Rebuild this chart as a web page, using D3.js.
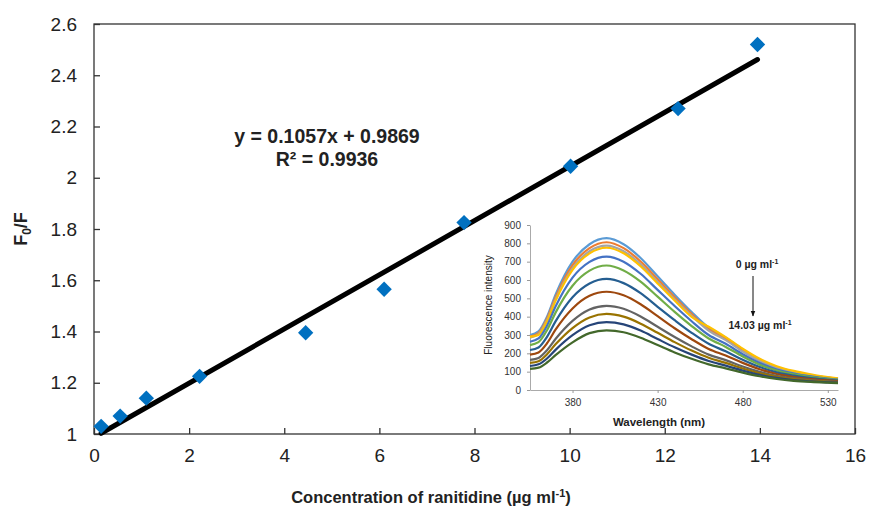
<!DOCTYPE html>
<html>
<head>
<meta charset="utf-8">
<script src="https://cdn.jsdelivr.net/npm/d3@7"></script>
<style>
  body { margin: 0; background: #fff; }
  svg { font-family: Arial, "Liberation Sans", sans-serif; }
</style>
</head>
<body>
<div id="chart"></div>
<script>
// main plot: F0/F vs concentration
const conc = [0.15, 0.55, 1.1, 2.22, 4.45, 6.1, 7.78, 10.02, 12.28, 13.95];
const f0f = [1.03, 1.07, 1.14, 1.225, 1.395, 1.565, 1.825, 2.045, 2.27, 2.52];
const xTicks = [0, 2, 4, 6, 8, 10, 12, 14, 16];
const yTicks = [1, 1.2, 1.4, 1.6, 1.8, 2, 2.2, 2.4, 2.6];
const fitSlope = 0.1057;
const fitIntercept = 0.9869;

// inset: emission spectra
const wavelengths = [355, 360, 365, 370, 380, 390, 400, 410, 420, 430, 440, 450, 460, 470, 480, 490, 500, 510, 520, 530, 536];
const s1 = [300, 320, 400, 520, 700, 795, 828, 795, 720, 620, 520, 425, 340, 285, 220, 165, 125, 100, 82, 68, 62];
const s2 = [292, 311, 389, 505, 681, 774, 806, 774, 701, 604, 506, 414, 331, 278, 215, 161, 122, 98, 80, 67, 61];
const s3 = [285, 304, 380, 494, 665, 757, 788, 757, 686, 590, 495, 405, 324, 272, 210, 158, 120, 96, 79, 66, 60];
const s4 = [290, 300, 374, 486, 655, 745, 776, 746, 675, 581, 488, 399, 345, 288, 225, 170, 130, 104, 85, 70, 64];
const s5 = [263, 281, 351, 455, 613, 699, 728, 700, 634, 546, 458, 375, 300, 252, 195, 147, 112, 90, 74, 62, 57];
const s6 = [245, 261, 326, 422, 569, 651, 679, 652, 591, 509, 426, 349, 281, 235, 183, 138, 106, 85, 71, 60, 55];
const s7 = [218, 232, 290, 374, 506, 581, 606, 583, 528, 454, 381, 312, 252, 211, 165, 125, 96, 78, 65, 56, 51];
const s8 = [193, 205, 255, 329, 445, 514, 536, 517, 468, 403, 337, 277, 224, 188, 148, 113, 87, 71, 60, 52, 48];
const s9 = [164, 175, 217, 278, 377, 439, 459, 443, 401, 345, 289, 238, 193, 163, 128, 99, 77, 63, 54, 47, 44];
const s10 = [148, 157, 195, 249, 338, 396, 415, 400, 362, 312, 261, 215, 176, 148, 117, 91, 72, 59, 51, 45, 42];
const s11 = [131, 140, 172, 219, 299, 353, 370, 358, 324, 278, 233, 193, 158, 133, 106, 83, 66, 54, 47, 42, 40];
const s12 = [115, 122, 150, 190, 260, 310, 325, 315, 285, 245, 205, 170, 140, 118, 95, 75, 60, 50, 44, 40, 38];
const spectra = [s1, s2, s3, s4, s5, s6, s7, s8, s9, s10, s11, s12];
const specColors = ["#5B9BD5", "#ED7D31", "#A5A5A5", "#FFC000", "#4472C4", "#70AD47",
                    "#255E91", "#9E480E", "#636363", "#997300", "#264478", "#43682B"];
const insetXTicks = [380, 430, 480, 530];
const insetYTicks = [0, 100, 200, 300, 400, 500, 600, 700, 800, 900];

const width = 869;
const height = 527;

const svg = d3.select("#chart")
  .append("svg")
  .attr("width", width)
  .attr("height", height);

svg.append("rect").attr("width", width).attr("height", height).attr("fill", "#fff");

const x = d3.scaleLinear().domain([0, 16]).range([94, 855]);
const y = d3.scaleLinear().domain([1, 2.6]).range([434, 24]);

// frame
svg.append("rect")
  .attr("x", x(0)).attr("y", y(2.6))
  .attr("width", x(16) - x(0)).attr("height", y(1) - y(2.6))
  .attr("fill", "none").attr("stroke", "#333").attr("stroke-width", 1.3);

const xAxis = svg.append("g")
  .attr("transform", `translate(0,${y(1)})`)
  .call(d3.axisBottom(x).tickValues(xTicks).tickSizeInner(-6).tickSizeOuter(0).tickPadding(15).tickFormat(d => d));
xAxis.select(".domain").remove();

const yAxis = svg.append("g")
  .attr("transform", `translate(${x(0)},0)`)
  .call(d3.axisLeft(y).tickValues(yTicks).tickSizeInner(-6).tickSizeOuter(0).tickPadding(17).tickFormat(d => +d.toFixed(1)));
yAxis.select(".domain").remove();

svg.selectAll(".tick line").attr("stroke", "#333").attr("stroke-width", 1.3);
svg.selectAll(".tick text").attr("font-size", 19).attr("fill", "#222")
  .attr("font-family", "Arial, 'Liberation Sans', sans-serif");

// inset spectra
const ix = d3.scaleLinear().domain([355, 536]).range([530, 838]);
const iy = d3.scaleLinear().domain([0, 900]).range([390, 225]);

const inset = svg.append("g");

const ixAxis = inset.append("g")
  .attr("transform", `translate(0,${iy(0)})`)
  .call(d3.axisBottom(ix).tickValues(insetXTicks).tickSizeInner(3).tickSizeOuter(0).tickPadding(6));
const iyAxis = inset.append("g")
  .attr("transform", `translate(${ix(355)},0)`)
  .call(d3.axisLeft(iy).tickValues(insetYTicks).tickSizeInner(3).tickSizeOuter(0).tickPadding(6));

inset.selectAll(".domain").attr("stroke", "#aaa");
inset.selectAll(".tick line").attr("stroke", "#999").attr("stroke-width", 1);
inset.selectAll(".tick text").attr("font-size", 10).attr("fill", "#333")
  .attr("font-family", "Arial, 'Liberation Sans', sans-serif");

const specLine = d3.line()
  .x((d, i) => ix(wavelengths[i]))
  .y(d => iy(d))
  .curve(d3.curveMonotoneX);

inset.selectAll(".spec")
  .data(spectra)
  .join("path")
  .attr("class", "spec")
  .attr("fill", "none")
  .attr("stroke", (d, i) => specColors[i])
  .attr("stroke-width", 2.2)
  .attr("d", specLine);

inset.append("text")
  .attr("transform", `translate(492,305) rotate(-90)`)
  .attr("text-anchor", "middle")
  .attr("font-size", 10)
  .attr("fill", "#222")
  .text("Fluorescence intensity");

inset.append("text")
  .attr("x", 659).attr("y", 426)
  .attr("text-anchor", "middle")
  .attr("font-size", 11.5)
  .attr("font-weight", "bold")
  .attr("fill", "#222")
  .text("Wavelength (nm)");

const topNote = inset.append("text")
  .attr("x", 757).attr("y", 268)
  .attr("text-anchor", "middle")
  .attr("font-size", 10.5)
  .attr("font-weight", "bold")
  .attr("fill", "#222");
topNote.append("tspan").text("0 µg ml");
topNote.append("tspan").attr("font-size", 7).attr("dy", -4).text("-1");

const bottomNote = inset.append("text")
  .attr("x", 760).attr("y", 329)
  .attr("text-anchor", "middle")
  .attr("font-size", 10.5)
  .attr("font-weight", "bold")
  .attr("fill", "#222");
bottomNote.append("tspan").text("14.03 µg ml");
bottomNote.append("tspan").attr("font-size", 7).attr("dy", -4).text("-1");

svg.append("defs").append("marker")
  .attr("id", "arrow")
  .attr("viewBox", "0 0 10 10")
  .attr("refX", 9).attr("refY", 5)
  .attr("markerWidth", 6).attr("markerHeight", 6)
  .attr("orient", "auto")
  .append("path")
  .attr("d", "M0,1 L10,5 L0,9 z")
  .attr("fill", "#111");

inset.append("line")
  .attr("x1", 753).attr("y1", 276)
  .attr("x2", 753).attr("y2", 316)
  .attr("stroke", "#111").attr("stroke-width", 1)
  .attr("marker-end", "url(#arrow)");

// trendline
const xMin = d3.min(conc), xMax = d3.max(conc);
svg.append("line")
  .attr("x1", x(xMin)).attr("y1", y(fitSlope * xMin + fitIntercept))
  .attr("x2", x(xMax)).attr("y2", y(fitSlope * xMax + fitIntercept))
  .attr("stroke", "#000")
  .attr("stroke-width", 5)
  .attr("stroke-linecap", "round");

// data points
svg.selectAll(".pt")
  .data(conc)
  .join("path")
  .attr("class", "pt")
  .attr("transform", (d, i) => `translate(${x(d)},${y(f0f[i])})`)
  .attr("d", d3.symbol(d3.symbolDiamond2, 150))
  .attr("fill", "#0070C0");

// equation
svg.append("text")
  .attr("x", 327).attr("y", 143)
  .attr("text-anchor", "middle")
  .attr("font-size", 19.5)
  .attr("font-weight", "bold")
  .attr("fill", "#222")
  .text("y = 0.1057x + 0.9869");
svg.append("text")
  .attr("x", 327).attr("y", 166)
  .attr("text-anchor", "middle")
  .attr("font-size", 19.5)
  .attr("font-weight", "bold")
  .attr("fill", "#222")
  .text("R² = 0.9936");

// axis titles
const yTitle = svg.append("text")
  .attr("transform", "translate(27,229) rotate(-90)")
  .attr("text-anchor", "middle")
  .attr("font-size", 18)
  .attr("font-weight", "bold")
  .attr("fill", "#222");
yTitle.append("tspan").text("F");
yTitle.append("tspan").attr("font-size", 12).attr("dy", 4).text("0");
yTitle.append("tspan").attr("dy", -4).text("/F");

const xTitle = svg.append("text")
  .attr("x", 431).attr("y", 503)
  .attr("text-anchor", "middle")
  .attr("font-size", 16.5)
  .attr("font-weight", "bold")
  .attr("fill", "#222");
xTitle.append("tspan").text("Concentration of ranitidine (µg ml");
xTitle.append("tspan").attr("font-size", 11).attr("dy", -6).text("-1");
xTitle.append("tspan").attr("dy", 6).text(")");
</script>
</body>
</html>
